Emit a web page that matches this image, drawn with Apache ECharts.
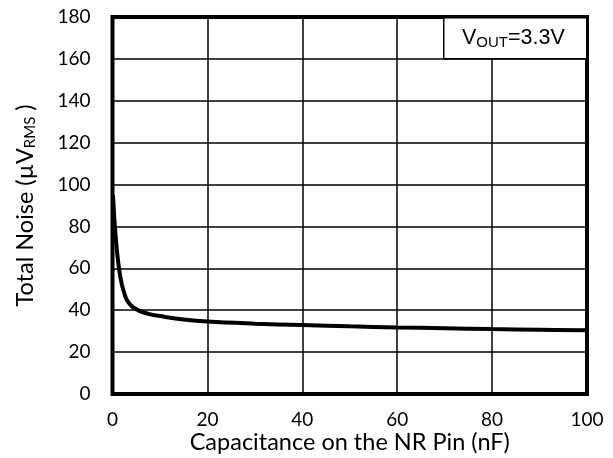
<!DOCTYPE html>
<html>
<head>
<meta charset="utf-8">
<script src="https://cdn.jsdelivr.net/npm/echarts@6/dist/echarts.min.js"></script>
<style>html,body{margin:0;padding:0;background:#fff}#c{width:613px;height:458px}</style>
</head>
<body>
<div id="c"></div>
<script>
const capacitance = [0.1, 0.5, 1, 1.5, 2, 2.5, 3, 4, 5, 6, 8, 10, 15, 20, 30, 40, 50, 60, 70, 80, 90, 100];
const noise = [95, 80, 67, 58, 52, 48, 45, 42, 40.5, 39.3, 38, 37.2, 35.6, 34.6, 33.6, 32.9, 32.3, 31.8, 31.4, 31.0, 30.7, 30.4];
const xTicks = [0, 20, 40, 60, 80, 100];
const yTicks = [0, 20, 40, 60, 80, 100, 120, 140, 160, 180];

const chart = echarts.init(document.getElementById('c'));
const lato = 'Lato, "Open Sans", sans-serif';
const arial = '"Liberation Sans", Arial, sans-serif';
chart.setOption({
  animation: false,
  grid: {left: 112.5, right: 26, top: 17, bottom: 64, show: true, borderColor: '#000', borderWidth: 4, z: 3,
         containLabel: false, outerBoundsMode: 'none'},
  xAxis: {
    type: 'value', min: xTicks[0], max: xTicks[xTicks.length - 1], interval: 20,
    name: 'Capacitance on the NR Pin (nF)', nameLocation: 'middle', nameGap: 36, nameMoveOverlap: false,
    nameTextStyle: {fontFamily: lato, fontSize: 23.5, color: '#000'},
    axisLine: {show: false}, axisTick: {show: false},
    axisLabel: {fontFamily: lato, fontSize: 19, color: '#000', margin: 16},
    splitLine: {lineStyle: {color: '#000', width: 1.5}}
  },
  yAxis: {
    type: 'value', min: yTicks[0], max: yTicks[yTicks.length - 1], interval: 20,
    name: '{n|Total Noise (µV}{s|RMS}{n| )}', nameLocation: 'middle', nameGap: 75, nameMoveOverlap: false,
    nameTextStyle: {rich: {
      n: {fontFamily: lato, fontSize: 23.5, color: '#000'},
      s: {fontFamily: lato, fontSize: 15, color: '#000', verticalAlign: 'bottom', padding: [9, 0, 0, 0]}
    }},
    axisLine: {show: false}, axisTick: {show: false},
    axisLabel: {fontFamily: lato, fontSize: 19, color: '#000', margin: 22},
    splitLine: {lineStyle: {color: '#000', width: 1.5}}
  },
  series: [{
    type: 'line', data: capacitance.map((c, i) => [c, noise[i]]),
    smooth: 0.4, showSymbol: false, z: 2,
    lineStyle: {color: '#000', width: 4}
  }],
  graphic: [
    {type: 'rect', left: 443, top: 17, z: 10,
     shape: {width: 143, height: 41},
     style: {fill: '#fff', stroke: '#000', lineWidth: 1.5}},
    {type: 'text', left: 462, top: 27, z: 11,
     style: {
       text: '{n|V}{s|OUT}{n|=3.3V}',
       rich: {
         n: {fontFamily: arial, fontSize: 21.5, fill: '#000'},
         s: {fontFamily: arial, fontSize: 15, fill: '#000', verticalAlign: 'bottom', padding: [10, 0, 0, 0]}
       }
     }}
  ]
});
</script>
</body>
</html>
